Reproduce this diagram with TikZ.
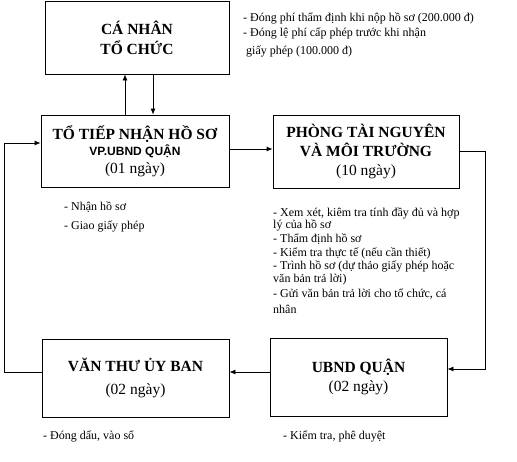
\documentclass[tikz,border=0pt]{standalone}
\usepackage{fontspec}
\setmainfont{Liberation Serif}
\newfontfamily\sansvp{Liberation Sans}
\usepackage{tikz}
\usetikzlibrary{arrows.meta, positioning, calc}

\begin{document}
\begin{tikzpicture}[
  x=1pt, y=-1pt,
  khoi/.style={draw, line width=0.8pt, align=center, inner sep=0pt,
    font=\fontsize{15.5}{19}\selectfont},
  ghichu/.style={anchor=north west, align=left, inner sep=0pt,
    font=\fontsize{12}{13.6}\selectfont},
  noi/.style={line width=0.8pt},
  >={Latex[length=6pt, width=5pt]}
]
  \useasboundingbox (0,0) rectangle (517,461);

  % Boxes
  \node[khoi, minimum width=184pt, minimum height=73pt] (canhan) at (137,37.5)
    {\textbf{CÁ NHÂN}\\[1pt] \textbf{TỔ CHỨC}};
  \node[khoi, minimum width=188pt, minimum height=72pt] (tiepnhan) at (135,151)
    {\textbf{TỔ TIẾP NHẬN HỒ SƠ}\\[-3pt]
     {\sansvp\fontsize{12}{14}\selectfont\bfseries VP.UBND QUẬN}\\[-1pt] (01 ngày)};
  \node[khoi, minimum width=186pt, minimum height=73pt] (tainguyen) at (366,151.5)
    {\textbf{PHÒNG TÀI NGUYÊN}\\ \textbf{VÀ MÔI TRƯỜNG}\\ (10 ngày)};
  \node[khoi, minimum width=177pt, minimum height=78pt] (ubnd) at (358.5,377)
    {\textbf{UBND QUẬN}\\ (02 ngày)};
  \node[khoi, minimum width=187pt, minimum height=78pt] (vanthu) at (135.5,378)
    {\textbf{VĂN THƯ ỦY BAN}\\[4pt] (02 ngày)};

  % Notes
  \node[ghichu] (gc1) at (243,13)
    {- Đóng phí thẩm định khi nộp hồ sơ (200.000 đ)\\[1pt]
     - Đóng lệ phí cấp phép trước khi nhận\\[4pt]
     \ giấy phép (100.000 đ)};
  \node[ghichu] (gc2) at (64,202)
    {- Nhận hồ sơ\\[5pt] - Giao giấy phép};
  \node[ghichu] (gc3) at (273,208)
    {- Xem xét, kiêm tra tính đầy đủ và hợp\\[-1.5pt]
     lý của hồ sơ\\
     - Thẩm định hồ sơ\\
     - Kiểm tra thực tế (nếu cần thiết)\\
     - Trình hồ sơ (dự thảo giấy phép hoặc\\[-0.5pt]
     văn bản trả lời)\\[1pt]
     - Gửi văn bản trả lời cho tổ chức, cá\\[2pt]
     nhân};
  \node[ghichu] (gc4) at (43,431) {- Đóng dấu, vào sổ};
  \node[ghichu] (gc5) at (283,431) {- Kiểm tra, phê duyệt};

  % Connectors
  \draw[noi, ->] ([xshift=-10pt]tiepnhan.north) -- ([xshift=-10pt]tiepnhan.north |- canhan.south);
  \draw[noi, ->] ([xshift=18pt]tiepnhan.north |- canhan.south) -- ([xshift=18pt]tiepnhan.north);
  \draw[noi, ->] ([yshift=2pt]tiepnhan.east) -- ([yshift=2pt]tiepnhan.east -| tainguyen.west);
  \draw[noi, ->] (tainguyen.east) -- ++(26,0) coordinate (gocphai)
    |- ([yshift=8pt]ubnd.east);
  \draw[noi, ->] ([yshift=5pt]ubnd.west) -- ([yshift=5pt]ubnd.west -| vanthu.east);
  \draw[noi, ->] ([yshift=6pt]vanthu.west) -- ++(-37,0) coordinate (goctrai)
    |- ([yshift=8pt]tiepnhan.west);

\end{tikzpicture}
\end{document}
